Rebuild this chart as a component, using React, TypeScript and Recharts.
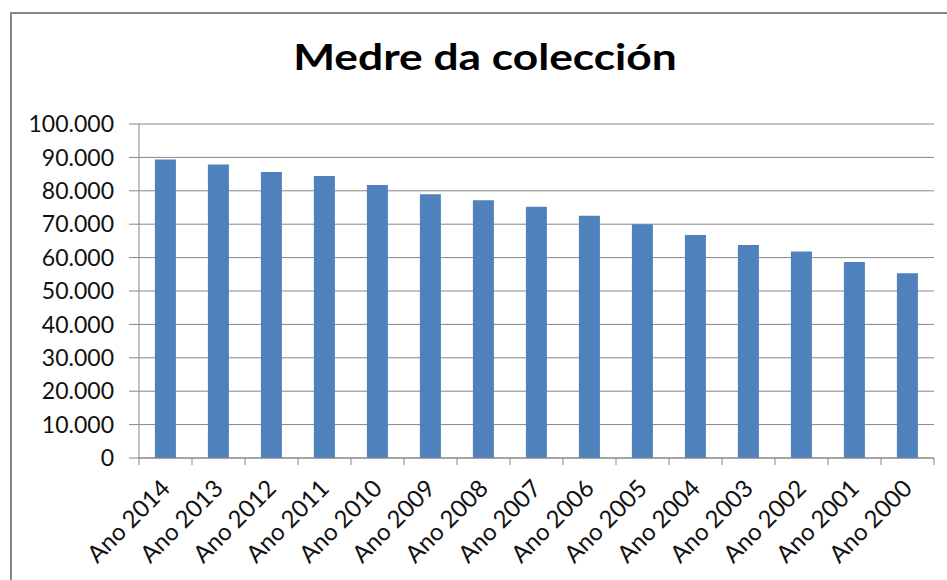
import { BarChart, Bar, XAxis, YAxis, CartesianGrid } from 'recharts';

const years = [
  'Ano 2014', 'Ano 2013', 'Ano 2012', 'Ano 2011', 'Ano 2010',
  'Ano 2009', 'Ano 2008', 'Ano 2007', 'Ano 2006', 'Ano 2005',
  'Ano 2004', 'Ano 2003', 'Ano 2002', 'Ano 2001', 'Ano 2000',
];
const growth = [
  89400, 87900, 85600, 84400, 81700,
  79000, 77200, 75200, 72500, 70000,
  66800, 63800, 61800, 58700, 55300,
];
const yTicks = [0, 10000, 20000, 30000, 40000, 50000, 60000, 70000, 80000, 90000, 100000];

const data = years.map((year, i) => ({ year, value: growth[i] }));

const W = 947;
const H = 580;
const MARGIN = { top: 124, right: 13, left: 0, bottom: 22 };
const Y_AXIS_W = 139;
const BAND = (W - MARGIN.right - MARGIN.left - Y_AXIS_W) / years.length;
const AXIS = '#868686';
const FONT = 'Lato, "Liberation Sans", sans-serif';

const formatThousands = (v: number) =>
  String(v).replace(/\B(?=(\d{3})+(?!\d))/g, '.');

// Excel puts category ticks between bars, so draw them by hand here
const XTick = (props: any) => {
  const { x, y, payload, index } = props;
  const half = BAND / 2;
  return (
    <g>
      <line x1={x - half} x2={x - half} y1={y} y2={y + 7} stroke={AXIS} />
      {index === years.length - 1 && (
        <line x1={x + half} x2={x + half} y1={y} y2={y + 7} stroke={AXIS} />
      )}
      <g transform={`translate(${x + 6},${y + 32})`}>
        <text
          textAnchor="end"
          transform="rotate(-45)"
          fill="#111"
          fontSize={24}
          fontFamily={FONT}
        >
          {payload.value}
        </text>
      </g>
    </g>
  );
};

export default function App() {
  return (
    <div
      style={{
        position: 'absolute',
        top: 0,
        left: 0,
        width: W,
        height: H,
        overflow: 'hidden',
        background: '#fff',
      }}
    >
      <div
        style={{
          position: 'absolute',
          left: 10,
          top: 12,
          width: 980,
          height: 620,
          border: `2px solid ${AXIS}`,
        }}
      />
      <div
        style={{
          position: 'absolute',
          left: 0,
          top: 36,
          width: 970,
          textAlign: 'center',
          fontFamily: FONT,
          fontWeight: 700,
          fontSize: 36,
          lineHeight: '40px',
          color: '#000',
          transform: 'scaleX(1.23)',
          transformOrigin: '485px 0',
        }}
      >
        Medre da colección
      </div>
      <div style={{ position: 'absolute', left: 0, top: 0 }}>
        <BarChart width={W} height={H} data={data} margin={MARGIN} barCategoryGap="30%">
          <CartesianGrid vertical={false} stroke={AXIS} />
          <XAxis
            dataKey="year"
            interval={0}
            height={H - MARGIN.top - MARGIN.bottom - 334}
            axisLine={{ stroke: AXIS }}
            tickLine={false}
            tickSize={0}
            tickMargin={0}
            tick={<XTick />}
          />
          <YAxis
            width={Y_AXIS_W}
            domain={[0, 100000]}
            ticks={yTicks}
            interval={0}
            tickFormatter={formatThousands}
            axisLine={{ stroke: AXIS }}
            tickLine={{ stroke: AXIS }}
            tickSize={10}
            tickMargin={15}
            tick={{ fill: '#111', fontSize: 23, fontFamily: FONT }}
          />
          <Bar dataKey="value" fill="#4F81BD" isAnimationActive={false} />
        </BarChart>
      </div>
    </div>
  );
}
